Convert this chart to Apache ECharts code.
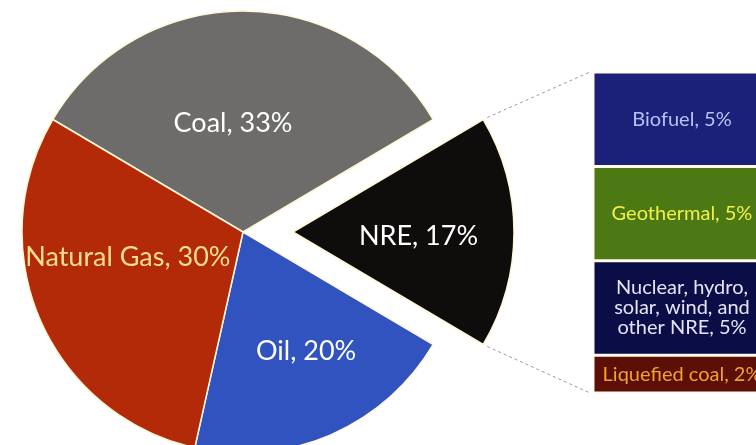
<!DOCTYPE html>
<html><head><meta charset="utf-8">
<script src="https://cdn.jsdelivr.net/npm/echarts@6/dist/echarts.min.js"></script>
<style>html,body{margin:0;padding:0;background:#fff}#c{width:756px;height:445px}</style>
</head><body><div id="c"></div>
<script>
// Main pie data (clockwise order)
const pieNames = ['Coal', 'NRE', 'Oil', 'Natural Gas'];
const pieValues = [33, 17, 20, 30];
// NRE breakdown (top to bottom)
const nreNames = ['Biofuel', 'Geothermal', 'Nuclear, hydro,\nsolar, wind, and\nother NRE', 'Liquefied coal'];
const nreValues = [5, 5, 5, 2];

// styles
const pieColors = ['#6d6c6b', '#0f0c0c', '#3153bf', '#b32a09'];
const pieLabelColors = ['#ffffff', '#ffffff', '#ffffff', '#f6df8e'];
const pieLabelShift = [[-10, 5], [12, 4], [18, 15], [-11, -20]];
const barColors = ['#1b2178', '#4c7913', '#0b0d46', '#5b0f07'];
const barLabelColors = ['#b9c1f2', '#f2f04a', '#e4e4f4', '#f2a232'];

const W = 756, H = 445;
const CX = 243, CY = 232, R = 221, OFF = 50;
const GL = 593, GT = 72, GR = -15, GB = 52;

const total = pieValues.reduce((a, b) => a + b, 0);
const nreIdx = pieNames.indexOf('NRE');
let before = 0;
for (let i = 0; i < nreIdx; i++) before += pieValues[i];
// centre the NRE slice on the horizontal (pointing right)
const startAngle = (before + pieValues[nreIdx] / 2) / total * 360;
const nreTotal = nreValues.reduce((a, b) => a + b, 0);

// connector lines from the exploded NRE slice corners to the breakdown bar
const a1 = startAngle - before / total * 360;
const a2 = a1 - pieValues[nreIdx] / total * 360;
const mid = (a1 + a2) / 2 * Math.PI / 180;
const vx = CX + OFF * Math.cos(mid), vy = CY - OFF * Math.sin(mid);
const p1 = [vx + R * Math.cos(a1 * Math.PI / 180), vy - R * Math.sin(a1 * Math.PI / 180)];
const p2 = [vx + R * Math.cos(a2 * Math.PI / 180), vy - R * Math.sin(a2 * Math.PI / 180)];
const topY = GT, botY = H - GB;
const lineStyle = { stroke: '#9a9a9a', lineWidth: 1, lineDash: [3, 3] };

const chart = echarts.init(document.getElementById('c'));

const barSeries = nreNames.map((n, i) => ({
  type: 'bar', name: n, stack: 'nre', xAxisIndex: 0, yAxisIndex: 0,
  barWidth: '100%',
  data: [nreValues[i]],
  itemStyle: { color: barColors[i], borderColor: '#fffbe6', borderWidth: 1.5 },
  label: {
    show: true, position: 'inside',
    formatter: p => p.seriesName + ', ' + p.value + '%',
    color: barLabelColors[i], fontFamily: 'Lato', fontSize: 20, lineHeight: 20
  }
}));

chart.setOption({
  animation: false,
  backgroundColor: '#ffffff',
  grid: { left: GL, top: GT, right: GR, bottom: GB, containLabel: false, outerBoundsMode: 'none' },
  xAxis: { type: 'category', data: ['NRE'], show: false },
  yAxis: { type: 'value', min: 0, max: nreTotal, inverse: true, show: false },
  graphic: [
    { type: 'line', shape: { x1: p1[0] + 4, y1: p1[1] - 2, x2: GL - 3, y2: topY }, style: lineStyle, z: 10 },
    { type: 'line', shape: { x1: p2[0] + 4, y1: p2[1] + 2, x2: GL - 3, y2: botY }, style: lineStyle, z: 10 }
  ],
  series: [{
    type: 'pie',
    center: [CX, CY],
    radius: [0, R],
    startAngle: startAngle,
    selectedMode: 'single',
    selectedOffset: OFF,
    data: pieNames.map((n, i) => ({
      name: n, value: pieValues[i], selected: n === 'NRE',
      itemStyle: { color: pieColors[i] },
      label: { color: pieLabelColors[i] }
    })),
    itemStyle: { borderColor: '#fff7d6', borderWidth: 1.5 },
    label: {
      show: true, position: 'inside',
      formatter: '{b}, {c}%',
      fontFamily: 'Lato', fontSize: 27
    },
    labelLayout: p => ({ dx: pieLabelShift[p.dataIndex][0], dy: pieLabelShift[p.dataIndex][1] }),
    emphasis: { disabled: true }
  }].concat(barSeries)
});
</script>
</body></html>
